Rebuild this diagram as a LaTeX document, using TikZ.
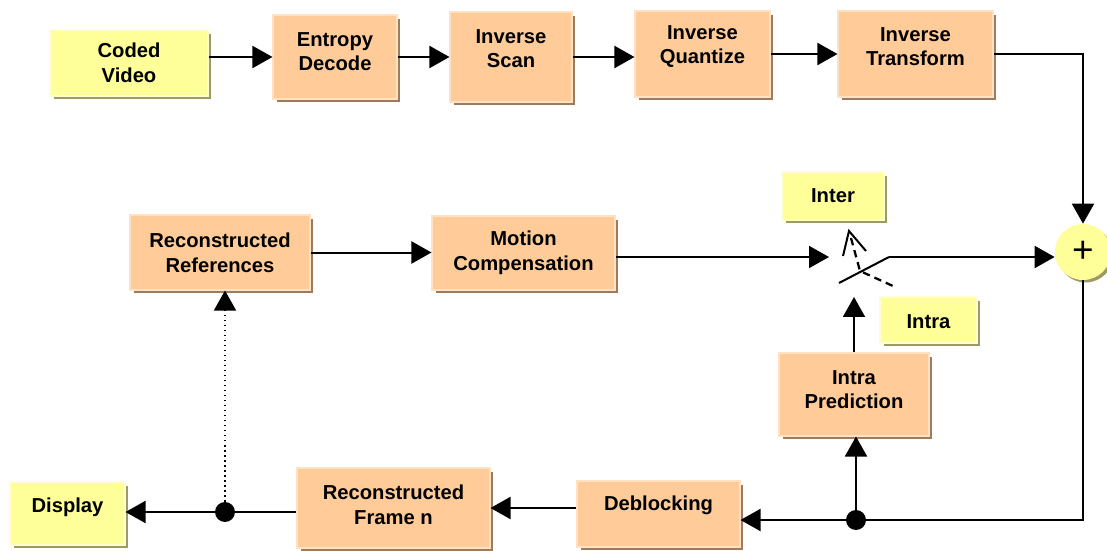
\documentclass[tikz,border=0pt]{standalone}
\usepackage{fontspec}
\setmainfont{Liberation Sans}
\usetikzlibrary{arrows.meta,shadows}
\definecolor{procfill}{RGB}{255,204,153}
\definecolor{procedge}{RGB}{255,226,196}
\definecolor{procshade}{RGB}{160,122,92}
\definecolor{notefill}{RGB}{255,255,153}
\definecolor{noteedge}{RGB}{255,255,210}
\definecolor{noteshade}{RGB}{158,154,100}
\tikzset{
  procbox/.style={
    rectangle,
    draw=procedge,
    line width=0.6pt,
    fill=procfill,
    inner sep=0pt,
    drop shadow={shadow xshift=0.07cm, shadow yshift=-0.07cm, fill=procshade, opacity=1}
  },
  notebox/.style={
    rectangle,
    draw=noteedge,
    line width=0.6pt,
    fill=notefill,
    inner sep=0pt,
    drop shadow={shadow xshift=0.07cm, shadow yshift=-0.07cm, fill=noteshade, opacity=1}
  },
  boxtext/.style={
    align=center,
    inner sep=0pt,
    font=\bfseries\fontsize{11.5}{14}\selectfont
  },
  sumnode/.style={
    circle,
    fill=notefill,
    minimum size=1.12cm,
    inner sep=0pt,
    font=\fontsize{21}{21}\selectfont,
    drop shadow={shadow xshift=0.05cm, shadow yshift=-0.05cm, fill=noteshade, opacity=1}
  },
  tapdot/.style={
    circle,
    fill=black,
    inner sep=0pt,
    minimum size=0.4cm
  },
  sigarrow/.style={
    -{Triangle[length=0.4cm, width=0.44cm]},
    line width=0.04cm,
    draw=black
  }
}
\begin{document}
\begin{tikzpicture}[x=0.02cm,y=-0.02cm]
\useasboundingbox (0,0) rectangle (1107,551);
% top row
\node[notebox, minimum width=3.16cm, minimum height=1.32cm, label={[boxtext]center:Coded\\Video}] (coded) at (129,63) {};
\node[procbox, minimum width=2.48cm, minimum height=1.68cm, label={[boxtext, yshift=0.11cm]center:Entropy\\Decode}] (entropy) at (335,57) {};
\node[procbox, minimum width=2.44cm, minimum height=1.80cm, label={[boxtext, yshift=0.17cm]center:Inverse\\Scan}] (iscan) at (511,57) {};
\node[procbox, minimum width=2.70cm, minimum height=1.72cm, label={[boxtext, yshift=0.15cm]center:Inverse\\Quantize}] (iquant) at (702.5,54) {};
\node[procbox, minimum width=3.10cm, minimum height=1.72cm, label={[boxtext, yshift=0.15cm]center:Inverse\\Transform}] (itrans) at (915.5,54) {};
% middle row
\node[procbox, minimum width=3.60cm, minimum height=1.50cm, label={[boxtext]center:Reconstructed\\References}] (recref) at (220,252.5) {};
\node[procbox, minimum width=3.66cm, minimum height=1.48cm, label={[boxtext]center:Motion\\Compensation}] (motion) at (523.5,253) {};
\node[notebox, minimum width=2.04cm, minimum height=0.96cm, label={[boxtext]center:Inter}] (inter) at (833,196) {};
\node[notebox, minimum width=1.94cm, minimum height=0.92cm, label={[boxtext, yshift=-0.04cm]center:Intra}] (intra) at (928.5,320) {};
\node[sumnode] (plus) at (1083,252) {+};
\node[procbox, minimum width=3.00cm, minimum height=1.66cm, label={[boxtext, yshift=0.1cm]center:Intra\\Prediction}] (intrapred) at (854,394.5) {};
% bottom row
\node[procbox, minimum width=3.26cm, minimum height=1.32cm, label={[boxtext, yshift=0.18cm]center:Deblocking}] (deblock) at (658.5,514) {};
\node[procbox, minimum width=3.86cm, minimum height=1.60cm, label={[boxtext, yshift=0.07cm]center:Reconstructed\\Frame n}] (recframe) at (393.5,508) {};
\node[notebox, minimum width=2.30cm, minimum height=1.26cm, label={[boxtext, yshift=0.13cm]center:Display}] (display) at (67.5,513.5) {};
\node[tapdot] (junc) at (856,520) {};
\node[tapdot] (tap) at (225,512) {};
% switch
\coordinate (swin) at (829,257);
\coordinate (swout) at (889,257);
\coordinate (swlow) at (854,297);
\draw[line width=0.04cm] (839,283) -- (swout);
\draw[line width=0.04cm] (843,256) -- (849,231) -- (866,251);
\draw[line width=0.045cm, dash pattern=on 0.15cm off 0.1cm] (851,238) -- (860,271) -- (893,286);

\draw[sigarrow] (entropy.west -| coded.east) -- (entropy.west);
\draw[sigarrow] (entropy.east) -- (iscan.west);
\draw[sigarrow] (iscan.east) -- (iscan.east -| iquant.west);
\draw[sigarrow] (iquant.east) -- (itrans.west);
\draw[sigarrow] (itrans.east) -| (plus.north);
\draw[sigarrow] (recref.east) -- (recref.east -| motion.west);
\draw[sigarrow] (motion.east |- swin) -- (swin);
\draw[sigarrow] (swout) -- (swout -| plus.west);
\draw[sigarrow] (intrapred.north) -- (swlow);
\draw[line width=0.04cm] (plus.south) |- (junc);
\draw[sigarrow] (junc) -- (junc -| deblock.east);
\draw[sigarrow] (junc) -- (junc |- intrapred.south);
\draw[sigarrow] (deblock.west |- recframe.east) -- (recframe.east);
\draw[line width=0.04cm] (recframe.west |- tap) -- (tap);
\draw[sigarrow] (tap) -- (tap -| display.east);
\draw[-{Triangle[length=0.4cm, width=0.44cm]}, line width=0.03cm, dotted] (tap) -- (tap |- recref.south);
\end{tikzpicture}
\end{document}
